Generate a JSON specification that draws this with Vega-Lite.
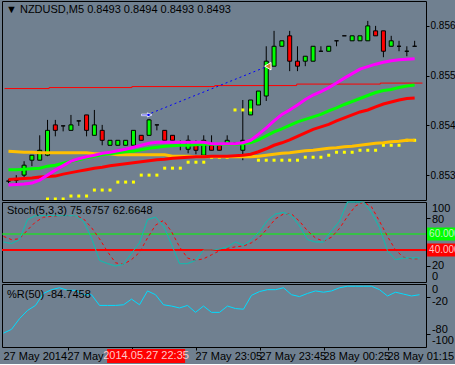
{
"$schema": "https://vega.github.io/schema/vega-lite/v6.json",
"background": "#708090",
"padding": 0,
"bounds": "flush",
"spacing": 2,
"resolve": {"scale": {"x": "independent", "y": "independent"}},
"config": {
  "view": {"stroke": "black", "strokeWidth": 1},
  "font": "Liberation Sans",
  "title": {"color": "black", "fontSize": 11, "fontWeight": "normal", "font": "Liberation Sans Narrow, Liberation Sans", "anchor": "start", "frame": "group"},
  "axis": {"labelFont": "Liberation Sans Narrow, Liberation Sans", "labelFontSize": 11, "labelColor": "black", "tickColor": "black", "domain": false, "grid": false},
  "text": {"font": "Liberation Sans Narrow, Liberation Sans", "fontSize": 11, "color": "black"}
},
"datasets": {
  "candles": [
    {"i":0,"o":0.85338,"h":0.85342,"l":0.85334,"c":0.85338},
    {"i":1,"o":0.85340,"h":0.85350,"l":0.85332,"c":0.85340},
    {"i":2,"o":0.85350,"h":0.85378,"l":0.85344,"c":0.85370},
    {"i":3,"o":0.85380,"h":0.85390,"l":0.85368,"c":0.85390},
    {"i":4,"o":0.85380,"h":0.85430,"l":0.85380,"c":0.85400},
    {"i":5,"o":0.85390,"h":0.85461,"l":0.85388,"c":0.85440},
    {"i":6,"o":0.85451,"h":0.85461,"l":0.85428,"c":0.85440},
    {"i":7,"o":0.85449,"h":0.85449,"l":0.85438,"c":0.85449},
    {"i":8,"o":0.85440,"h":0.85471,"l":0.85440,"c":0.85451},
    {"i":9,"o":0.85459,"h":0.85459,"l":0.85449,"c":0.85459},
    {"i":10,"o":0.85471,"h":0.85471,"l":0.85428,"c":0.85440},
    {"i":11,"o":0.85430,"h":0.85481,"l":0.85430,"c":0.85451},
    {"i":12,"o":0.85440,"h":0.85451,"l":0.85410,"c":0.85420},
    {"i":13,"o":0.85410,"h":0.85420,"l":0.85410,"c":0.85420},
    {"i":14,"o":0.85410,"h":0.85420,"l":0.85410,"c":0.85420},
    {"i":15,"o":0.85410,"h":0.85420,"l":0.85410,"c":0.85420},
    {"i":16,"o":0.85410,"h":0.85440,"l":0.85410,"c":0.85440},
    {"i":17,"o":0.85430,"h":0.85430,"l":0.85420,"c":0.85420},
    {"i":18,"o":0.85430,"h":0.85463,"l":0.85430,"c":0.85461},
    {"i":19,"o":0.85451,"h":0.85451,"l":0.85440,"c":0.85451},
    {"i":20,"o":0.85440,"h":0.85440,"l":0.85420,"c":0.85420},
    {"i":21,"o":0.85430,"h":0.85430,"l":0.85420,"c":0.85420},
    {"i":22,"o":0.85410,"h":0.85420,"l":0.85400,"c":0.85410},
    {"i":23,"o":0.85402,"h":0.85430,"l":0.85394,"c":0.85420},
    {"i":24,"o":0.85410,"h":0.85420,"l":0.85392,"c":0.85400},
    {"i":25,"o":0.85390,"h":0.85430,"l":0.85390,"c":0.85420},
    {"i":26,"o":0.85410,"h":0.85430,"l":0.85400,"c":0.85400},
    {"i":27,"o":0.85410,"h":0.85410,"l":0.85400,"c":0.85400},
    {"i":28,"o":0.85412,"h":0.85430,"l":0.85412,"c":0.85420},
    {"i":29,"o":0.85414,"h":0.85416,"l":0.85412,"c":0.85414},
    {"i":30,"o":0.85400,"h":0.85501,"l":0.85380,"c":0.85420},
    {"i":31,"o":0.85471,"h":0.85501,"l":0.85471,"c":0.85501},
    {"i":32,"o":0.85491,"h":0.85519,"l":0.85491,"c":0.85519},
    {"i":33,"o":0.85509,"h":0.85609,"l":0.85499,"c":0.85579},
    {"i":34,"o":0.85569,"h":0.85640,"l":0.85569,"c":0.85609},
    {"i":35,"o":0.85609,"h":0.85620,"l":0.85609,"c":0.85620},
    {"i":36,"o":0.85630,"h":0.85640,"l":0.85559,"c":0.85579},
    {"i":37,"o":0.85579,"h":0.85609,"l":0.85559,"c":0.85569},
    {"i":38,"o":0.85579,"h":0.85589,"l":0.85569,"c":0.85589},
    {"i":39,"o":0.85579,"h":0.85609,"l":0.85579,"c":0.85609},
    {"i":40,"o":0.85599,"h":0.85609,"l":0.85599,"c":0.85599},
    {"i":41,"o":0.85599,"h":0.85609,"l":0.85599,"c":0.85609},
    {"i":42,"o":0.85620,"h":0.85620,"l":0.85609,"c":0.85620},
    {"i":43,"o":0.85630,"h":0.85630,"l":0.85630,"c":0.85630},
    {"i":44,"o":0.85620,"h":0.85630,"l":0.85620,"c":0.85630},
    {"i":45,"o":0.85620,"h":0.85630,"l":0.85620,"c":0.85630},
    {"i":46,"o":0.85620,"h":0.85660,"l":0.85620,"c":0.85650},
    {"i":47,"o":0.85640,"h":0.85650,"l":0.85630,"c":0.85630},
    {"i":48,"o":0.85640,"h":0.85640,"l":0.85587,"c":0.85599},
    {"i":49,"o":0.85609,"h":0.85630,"l":0.85609,"c":0.85620},
    {"i":50,"o":0.85609,"h":0.85620,"l":0.85599,"c":0.85609},
    {"i":51,"o":0.85599,"h":0.85609,"l":0.85589,"c":0.85599},
    {"i":52,"o":0.85609,"h":0.85620,"l":0.85609,"c":0.85609}
  ],
  "ma": [
    {"i":0,"yel":0.85398,"red":0.85341,"grn":0.85361,"mag":0.85330,"dot":null},
    {"i":1,"yel":0.85397,"red":0.85342,"grn":0.85361,"mag":0.85331,"dot":null},
    {"i":2,"yel":0.85396,"red":0.85343,"grn":0.85362,"mag":0.85332,"dot":null},
    {"i":3,"yel":0.85396,"red":0.85344,"grn":0.85363,"mag":0.85334,"dot":null},
    {"i":4,"yel":0.85395,"red":0.85346,"grn":0.85364,"mag":0.85340,"dot":null},
    {"i":5,"yel":0.85395,"red":0.85347,"grn":0.85368,"mag":0.85350,"dot":0.85302},
    {"i":6,"yel":0.85395,"red":0.85348,"grn":0.85370,"mag":0.85360,"dot":0.85302},
    {"i":7,"yel":0.85395,"red":0.85352,"grn":0.85374,"mag":0.85369,"dot":0.85302},
    {"i":8,"yel":0.85395,"red":0.85355,"grn":0.85378,"mag":0.85378,"dot":0.85308},
    {"i":9,"yel":0.85395,"red":0.85358,"grn":0.85381,"mag":0.85383,"dot":0.85308},
    {"i":10,"yel":0.85395,"red":0.85361,"grn":0.85385,"mag":0.85387,"dot":0.85308},
    {"i":11,"yel":0.85393,"red":0.85364,"grn":0.85388,"mag":0.85390,"dot":0.85320},
    {"i":12,"yel":0.85393,"red":0.85366,"grn":0.85391,"mag":0.85394,"dot":0.85320},
    {"i":13,"yel":0.85393,"red":0.85369,"grn":0.85393,"mag":0.85396,"dot":0.85320},
    {"i":14,"yel":0.85391,"red":0.85371,"grn":0.85395,"mag":0.85399,"dot":0.85336},
    {"i":15,"yel":0.85391,"red":0.85373,"grn":0.85397,"mag":0.85402,"dot":0.85336},
    {"i":16,"yel":0.85391,"red":0.85375,"grn":0.85398,"mag":0.85406,"dot":0.85336},
    {"i":17,"yel":0.85391,"red":0.85377,"grn":0.85401,"mag":0.85410,"dot":0.85350},
    {"i":18,"yel":0.85391,"red":0.85379,"grn":0.85404,"mag":0.85414,"dot":0.85350},
    {"i":19,"yel":0.85391,"red":0.85381,"grn":0.85406,"mag":0.85416,"dot":0.85350},
    {"i":20,"yel":0.85391,"red":0.85382,"grn":0.85408,"mag":0.85416,"dot":0.85364},
    {"i":21,"yel":0.85388,"red":0.85384,"grn":0.85409,"mag":0.85416,"dot":0.85364},
    {"i":22,"yel":0.85388,"red":0.85385,"grn":0.85410,"mag":0.85416,"dot":0.85364},
    {"i":23,"yel":0.85388,"red":0.85386,"grn":0.85410,"mag":0.85416,"dot":0.85376},
    {"i":24,"yel":0.85387,"red":0.85387,"grn":0.85411,"mag":0.85416,"dot":0.85376},
    {"i":25,"yel":0.85387,"red":0.85387,"grn":0.85412,"mag":0.85416,"dot":0.85376},
    {"i":26,"yel":0.85387,"red":0.85388,"grn":0.85412,"mag":0.85413,"dot":0.85386},
    {"i":27,"yel":0.85387,"red":0.85388,"grn":0.85412,"mag":0.85413,"dot":0.85386},
    {"i":28,"yel":0.85387,"red":0.85388,"grn":0.85412,"mag":0.85413,"dot":0.85386},
    {"i":29,"yel":0.85387,"red":0.85389,"grn":0.85412,"mag":0.85413,"dot":0.85481},
    {"i":30,"yel":0.85387,"red":0.85390,"grn":0.85413,"mag":0.85415,"dot":0.85481},
    {"i":31,"yel":0.85387,"red":0.85392,"grn":0.85415,"mag":0.85420,"dot":0.85481},
    {"i":32,"yel":0.85388,"red":0.85397,"grn":0.85421,"mag":0.85432,"dot":0.85380},
    {"i":33,"yel":0.85390,"red":0.85403,"grn":0.85429,"mag":0.85445,"dot":0.85380},
    {"i":34,"yel":0.85392,"red":0.85410,"grn":0.85437,"mag":0.85459,"dot":0.85380},
    {"i":35,"yel":0.85394,"red":0.85415,"grn":0.85443,"mag":0.85472,"dot":0.85380},
    {"i":36,"yel":0.85395,"red":0.85421,"grn":0.85450,"mag":0.85481,"dot":0.85380},
    {"i":37,"yel":0.85397,"red":0.85428,"grn":0.85457,"mag":0.85491,"dot":0.85380},
    {"i":38,"yel":0.85399,"red":0.85435,"grn":0.85462,"mag":0.85502,"dot":0.85386},
    {"i":39,"yel":0.85400,"red":0.85442,"grn":0.85467,"mag":0.85511,"dot":0.85386},
    {"i":40,"yel":0.85402,"red":0.85447,"grn":0.85472,"mag":0.85518,"dot":0.85386},
    {"i":41,"yel":0.85404,"red":0.85452,"grn":0.85479,"mag":0.85526,"dot":0.85390},
    {"i":42,"yel":0.85405,"red":0.85459,"grn":0.85485,"mag":0.85535,"dot":0.85396},
    {"i":43,"yel":0.85407,"red":0.85465,"grn":0.85492,"mag":0.85545,"dot":0.85396},
    {"i":44,"yel":0.85408,"red":0.85471,"grn":0.85498,"mag":0.85554,"dot":0.85396},
    {"i":45,"yel":0.85410,"red":0.85477,"grn":0.85504,"mag":0.85563,"dot":0.85400},
    {"i":46,"yel":0.85412,"red":0.85481,"grn":0.85510,"mag":0.85568,"dot":0.85400},
    {"i":47,"yel":0.85414,"red":0.85487,"grn":0.85516,"mag":0.85573,"dot":0.85400},
    {"i":48,"yel":0.85415,"red":0.85493,"grn":0.85520,"mag":0.85577,"dot":0.85410},
    {"i":49,"yel":0.85417,"red":0.85497,"grn":0.85522,"mag":0.85580,"dot":0.85410},
    {"i":50,"yel":0.85418,"red":0.85501,"grn":0.85526,"mag":0.85582,"dot":0.85410},
    {"i":51,"yel":0.85420,"red":0.85504,"grn":0.85529,"mag":0.85583,"dot":0.85420},
    {"i":52,"yel":0.85420,"red":0.85505,"grn":0.85531,"mag":0.85584,"dot":0.85420}
  ],
  "step": [
    {"i":-0.5,"p":0.85524},{"i":5.2,"p":0.85526},{"i":15.8,"p":0.85528},{"i":26.4,"p":0.85530},{"i":36.9,"p":0.85533},{"i":47.6,"p":0.85535},{"i":53,"p":0.85535}
  ],
  "trade": [
    {"i":17.7,"p":0.85471,"ev":"open"},{"i":33.2,"p":0.85569,"ev":"close"}
  ],
  "levels": [
    {"v":60,"t":"60.000"},{"v":40,"t":"40.000"}
  ],
  "sticks": [
    {"v":100,"t":"100"},{"v":80,"t":"80"},{"v":20,"t":"20"},{"v":0,"t":"0"}
  ],
  "wticks": [
    {"v":0,"t":"0"},{"v":-20,"t":"-20"},{"v":-80,"t":"-80"},{"v":-100,"t":"-100"}
  ],
  "cursor": [
    {"i":18,"t":"2014.05.27 22:35"}
  ],
  "times": [
    {"i":0,"t":"27 May 2014"},{"i":8,"t":"27 May 21:45"},{"i":24,"t":"27 May 23:05"},{"i":32,"t":"27 May 23:45"},{"i":40,"t":"28 May 00:25"},{"i":48,"t":"28 May 01:15"}
  ],
  "stoch": [
    {"i":0,"k":50,"d":57},{"i":1,"k":48,"d":53},{"i":2,"k":53,"d":54},{"i":3,"k":78,"d":65},{"i":4,"k":83,"d":75},
    {"i":5,"k":83,"d":81},{"i":6,"k":83,"d":82},{"i":7,"k":83,"d":83},{"i":8,"k":83,"d":83},{"i":9,"k":83,"d":83},
    {"i":10,"k":76,"d":79},{"i":11,"k":55,"d":68},{"i":12,"k":27,"d":54},{"i":13,"k":23,"d":38},{"i":14,"k":20,"d":24},
    {"i":15,"k":22,"d":22},{"i":16,"k":36,"d":28},{"i":17,"k":49,"d":37},{"i":18,"k":78,"d":55},{"i":19,"k":81,"d":71},
    {"i":20,"k":70,"d":77},{"i":21,"k":47,"d":63},{"i":22,"k":23,"d":44},{"i":23,"k":23,"d":30},{"i":24,"k":27,"d":27},
    {"i":25,"k":40,"d":29},{"i":26,"k":40,"d":34},{"i":27,"k":41,"d":39},{"i":28,"k":44,"d":42},{"i":29,"k":50,"d":44},
    {"i":30,"k":46,"d":45},{"i":31,"k":53,"d":49},{"i":32,"k":63,"d":56},{"i":33,"k":77,"d":67},{"i":34,"k":85,"d":79},
    {"i":35,"k":87,"d":85},{"i":36,"k":83,"d":85},{"i":37,"k":70,"d":76},{"i":38,"k":53,"d":64},{"i":39,"k":50,"d":55},
    {"i":40,"k":50,"d":51},{"i":41,"k":64,"d":56},{"i":42,"k":76,"d":67},{"i":43,"k":100,"d":82},{"i":44,"k":100,"d":95},
    {"i":45,"k":100,"d":100},{"i":46,"k":87,"d":94},{"i":47,"k":68,"d":76},{"i":48,"k":39,"d":57},{"i":49,"k":28,"d":40},
    {"i":50,"k":30,"d":31},{"i":51,"k":30,"d":29},{"i":52,"k":30,"d":29}
  ],
  "wpr": [
    {"i":0,"r":-78},{"i":1,"r":-72},{"i":2,"r":-55},{"i":3,"r":-42},{"i":4,"r":-34},{"i":5,"r":-15},{"i":6,"r":-9},
    {"i":7,"r":-6},{"i":8,"r":-10},{"i":9,"r":-10},{"i":10,"r":-17},{"i":11,"r":-17},{"i":12,"r":-34},{"i":13,"r":-34},
    {"i":14,"r":-34},{"i":15,"r":-33},{"i":16,"r":-24},{"i":17,"r":-33},{"i":18,"r":-11},{"i":19,"r":-17},{"i":20,"r":-33},
    {"i":21,"r":-35},{"i":22,"r":-38},{"i":23,"r":-34},{"i":24,"r":-45},{"i":25,"r":-35},{"i":26,"r":-45},{"i":27,"r":-45},
    {"i":28,"r":-35},{"i":29,"r":-39},{"i":30,"r":-40},{"i":31,"r":-18},{"i":32,"r":-12},{"i":33,"r":-9},{"i":34,"r":-9},
    {"i":35,"r":-6},{"i":36,"r":-17},{"i":37,"r":-20},{"i":38,"r":-15},{"i":39,"r":-11},{"i":40,"r":-13},{"i":41,"r":-11},
    {"i":42,"r":-6},{"i":43,"r":-3.5},{"i":44,"r":-3.5},{"i":45,"r":-3.5},{"i":46,"r":-3.5},{"i":47,"r":-9},{"i":48,"r":-19},
    {"i":49,"r":-13},{"i":50,"r":-16},{"i":51,"r":-19},{"i":52,"r":-17}
  ]
},
"vconcat": [
  {
    "width": 424, "height": 199,
    "title": {"text": "▼  NZDUSD,M5  0.8493 0.8494 0.8493 0.8493", "offset": -14, "dx": 4},
    "layer": [
      {"data": {"name": "step"}, "mark": {"type": "line", "color": "#ff0000", "strokeWidth": 1, "interpolate": "step-after", "clip": true},
       "encoding": {"x": {"field": "i", "type": "quantitative", "scale": {"domain": [-0.1875, 52.8125], "nice": false, "zero": false}, "axis": null},
                    "y": {"field": "p", "type": "quantitative", "scale": {"domain": [0.853, 0.857], "nice": false, "zero": false},
                          "axis": {"orient": "right", "values": [0.8535, 0.8545, 0.8555, 0.8565], "format": ".4f", "tickSize": 3, "labelPadding": 1, "labelFontSize": 10, "labelOverlap": false, "title": null}}}},
      {"data": {"name": "candles"}, "mark": {"type": "rule", "color": "black", "strokeWidth": 1},
       "encoding": {"x": {"field": "i", "type": "quantitative"}, "y": {"field": "h", "type": "quantitative"}, "y2": {"field": "l"}}},
      {"data": {"name": "candles"}, "mark": {"type": "bar", "width": 4, "stroke": "black", "strokeWidth": 1},
       "encoding": {"x": {"field": "i", "type": "quantitative"}, "y": {"field": "o", "type": "quantitative"}, "y2": {"field": "c"},
                    "fill": {"condition": {"test": "datum.c > datum.o", "value": "#00ff00"}, "value": "#ff0000"}}},
      {"data": {"name": "ma"}, "mark": {"type": "square", "color": "#ffff00", "size": 9, "opacity": 1, "filled": true, "clip": true},
       "encoding": {"x": {"field": "i", "type": "quantitative"}, "y": {"field": "dot", "type": "quantitative"}}},
      {"data": {"name": "ma"}, "mark": {"type": "line", "color": "#ffc000", "strokeWidth": 3},
       "encoding": {"x": {"field": "i", "type": "quantitative"}, "y": {"field": "yel", "type": "quantitative"}}},
      {"data": {"name": "ma"}, "mark": {"type": "line", "color": "#ff0000", "strokeWidth": 3},
       "encoding": {"x": {"field": "i", "type": "quantitative"}, "y": {"field": "red", "type": "quantitative"}}},
      {"data": {"name": "ma"}, "mark": {"type": "line", "color": "#00ff00", "strokeWidth": 3},
       "encoding": {"x": {"field": "i", "type": "quantitative"}, "y": {"field": "grn", "type": "quantitative"}}},
      {"data": {"name": "ma"}, "mark": {"type": "line", "color": "#ff00ff", "strokeWidth": 3},
       "encoding": {"x": {"field": "i", "type": "quantitative"}, "y": {"field": "mag", "type": "quantitative"}}},
      {"data": {"name": "trade"}, "mark": {"type": "line", "color": "#0000ff", "strokeWidth": 1, "strokeDash": [2, 3]},
       "encoding": {"x": {"field": "i", "type": "quantitative"}, "y": {"field": "p", "type": "quantitative"}}},
      {"data": {"name": "trade"}, "transform": [{"filter": "datum.ev == 'open'"}],
       "mark": {"type": "point", "shape": "arrow", "angle": 90, "size": 110, "filled": true, "fill": "#0000ff", "stroke": "white", "strokeWidth": 0.8, "opacity": 1},
       "encoding": {"x": {"field": "i", "type": "quantitative"}, "y": {"field": "p", "type": "quantitative"}}},
      {"data": {"name": "trade"}, "transform": [{"filter": "datum.ev == 'close'"}],
       "mark": {"type": "point", "shape": "triangle-left", "size": 55, "filled": true, "fill": "#cc8833", "stroke": "white", "strokeWidth": 1, "opacity": 1},
       "encoding": {"x": {"field": "i", "type": "quantitative"}, "y": {"field": "p", "type": "quantitative"}}},
      {"mark": {"type": "rule", "color": "#ff0000", "strokeDash": [4, 3]}, "encoding": {"x": {"datum": 18}}},
      {"mark": {"type": "rule", "color": "black", "strokeDash": [3, 3]}, "encoding": {"x": {"datum": 35}}}
    ]
  },
  {
    "width": 424, "height": 80,
    "title": {"text": "Stoch(5,3,3) 75.6757 62.6648", "offset": -16, "dx": 5},
    "layer": [
      {"data": {"name": "stoch"}, "mark": {"type": "line", "color": "#20b2aa", "strokeWidth": 1},
       "encoding": {"x": {"field": "i", "type": "quantitative", "scale": {"domain": [-0.1875, 52.8125], "nice": false, "zero": false}, "axis": null},
                    "y": {"field": "k", "type": "quantitative", "scale": {"domain": [0, 100], "nice": false},
                          "axis": {"orient": "right", "values": [80, 20], "tickSize": 4, "labels": false, "title": null}}}},
      {"mark": {"type": "rule", "color": "#dcdcdc", "strokeDash": [4, 3]}, "encoding": {"y": {"datum": 80}}},
      {"mark": {"type": "rule", "color": "#dcdcdc", "strokeDash": [4, 3]}, "encoding": {"y": {"datum": 20}}},
      {"data": {"name": "levels"}, "mark": {"type": "rule"},
       "encoding": {"y": {"field": "v", "type": "quantitative"},
                    "color": {"condition": {"test": "datum.v == 60", "value": "#00ff00"}, "value": "#ff0000"},
                    "strokeWidth": {"condition": {"test": "datum.v == 60", "value": 1}, "value": 2}}},
      {"data": {"name": "stoch"}, "mark": {"type": "line", "color": "#ff0000", "strokeWidth": 1, "strokeDash": [3, 3]},
       "encoding": {"x": {"field": "i", "type": "quantitative"}, "y": {"field": "d", "type": "quantitative"}}},
      {"data": {"name": "stoch"}, "mark": {"type": "line", "color": "#20b2aa", "strokeWidth": 1},
       "encoding": {"x": {"field": "i", "type": "quantitative"}, "y": {"field": "k", "type": "quantitative"}}},
      {"mark": {"type": "rule", "color": "#ff0000", "strokeDash": [4, 3]}, "encoding": {"x": {"datum": 18}}},
      {"mark": {"type": "rule", "color": "black", "strokeDash": [3, 3]}, "encoding": {"x": {"datum": 35}}},
      {"data": {"name": "levels"}, "mark": {"type": "rule", "strokeWidth": 13, "strokeCap": "butt", "clip": false},
       "encoding": {"x": {"datum": 52.95}, "x2": {"datum": 58}, "y": {"field": "v", "type": "quantitative"},
                    "color": {"condition": {"test": "datum.v == 60", "value": "#00ff00"}, "value": "#ff0000"}}},
      {"data": {"name": "levels"}, "mark": {"type": "text", "align": "left", "baseline": "middle", "dx": 2, "fontSize": 10, "clip": false},
       "encoding": {"x": {"datum": 52.95}, "y": {"field": "v", "type": "quantitative"}, "text": {"field": "t"},
                    "color": {"condition": {"test": "datum.v == 60", "value": "#c4f4c4"}, "value": "#ffc4c4"}}},
      {"data": {"name": "sticks"}, "transform": [{"filter": "datum.v == 100"}], "mark": {"type": "text", "align": "left", "baseline": "top", "dy": 1, "clip": false},
       "encoding": {"x": {"datum": 53.55}, "y": {"field": "v", "type": "quantitative"}, "text": {"field": "t"}}},
      {"data": {"name": "sticks"}, "transform": [{"filter": "datum.v == 80"}], "mark": {"type": "text", "align": "left", "baseline": "middle", "dy": 2, "clip": false},
       "encoding": {"x": {"datum": 53.55}, "y": {"field": "v", "type": "quantitative"}, "text": {"field": "t"}}},
      {"data": {"name": "sticks"}, "transform": [{"filter": "datum.v == 20"}], "mark": {"type": "text", "align": "left", "baseline": "middle", "dy": -0.5, "clip": false},
       "encoding": {"x": {"datum": 53.55}, "y": {"field": "v", "type": "quantitative"}, "text": {"field": "t"}}},
      {"data": {"name": "sticks"}, "transform": [{"filter": "datum.v == 0"}], "mark": {"type": "text", "align": "left", "baseline": "bottom", "dy": 0, "clip": false},
       "encoding": {"x": {"datum": 53.55}, "y": {"field": "v", "type": "quantitative"}, "text": {"field": "t"}}}
    ]
  },
  {
    "width": 424, "height": 63,
    "title": {"text": "%R(50) -84.7458", "offset": -16, "dx": 5},
    "layer": [
      {"mark": {"type": "rule", "color": "#dcdcdc", "strokeDash": [4, 3]}, "encoding": {"y": {"datum": -20, "type": "quantitative", "scale": {"domain": [-100, 0], "nice": false, "zero": false},
          "axis": {"orient": "right", "values": [-20, -80], "tickSize": 4, "labels": false, "title": null}}}},
      {"mark": {"type": "rule", "color": "#dcdcdc", "strokeDash": [4, 3]}, "encoding": {"y": {"datum": -80}}},
      {"data": {"name": "wpr"}, "mark": {"type": "line", "color": "#00dcff", "strokeWidth": 1},
       "encoding": {"x": {"field": "i", "type": "quantitative", "scale": {"domain": [-0.1875, 52.8125], "nice": false, "zero": false},
                          "axis": {"orient": "bottom", "values": [8, 16, 24, 32, 40, 48], "tickSize": 3, "labels": false, "title": null}},
                    "y": {"field": "r", "type": "quantitative"}}},
      {"mark": {"type": "rule", "color": "#ff0000", "strokeDash": [4, 3]}, "encoding": {"x": {"datum": 18}}},
      {"mark": {"type": "rule", "color": "black", "strokeDash": [3, 3]}, "encoding": {"x": {"datum": 35}}},
      {"data": {"name": "wticks"}, "transform": [{"filter": "datum.v == 0"}], "mark": {"type": "text", "align": "left", "baseline": "top", "dy": 0, "clip": false},
       "encoding": {"x": {"datum": 53.55}, "y": {"field": "v", "type": "quantitative"}, "text": {"field": "t"}}},
      {"data": {"name": "wticks"}, "transform": [{"filter": "datum.v == -20"}], "mark": {"type": "text", "align": "left", "baseline": "top", "dy": -0.5, "clip": false},
       "encoding": {"x": {"datum": 53.55}, "y": {"field": "v", "type": "quantitative"}, "text": {"field": "t"}}},
      {"data": {"name": "wticks"}, "transform": [{"filter": "datum.v == -80"}], "mark": {"type": "text", "align": "left", "baseline": "bottom", "dy": 0.5, "clip": false},
       "encoding": {"x": {"datum": 53.55}, "y": {"field": "v", "type": "quantitative"}, "text": {"field": "t"}}},
      {"data": {"name": "wticks"}, "transform": [{"filter": "datum.v == -100"}], "mark": {"type": "text", "align": "left", "baseline": "bottom", "dy": -1, "clip": false},
       "encoding": {"x": {"datum": 53.55}, "y": {"field": "v", "type": "quantitative"}, "text": {"field": "t"}}},
      {"data": {"name": "times"}, "mark": {"type": "text", "align": "left", "baseline": "top", "clip": false},
       "encoding": {"x": {"field": "i", "type": "quantitative"}, "y": {"datum": -106.5}, "text": {"field": "t"}}},
      {"data": {"name": "cursor"}, "mark": {"type": "rule", "color": "#ff0000", "strokeWidth": 14, "strokeCap": "butt", "clip": false},
       "encoding": {"x": {"datum": 12.95}, "x2": {"datum": 22.7}, "y": {"datum": -114.3}}},
      {"data": {"name": "cursor"}, "mark": {"type": "text", "align": "center", "baseline": "middle", "color": "#ffc8c8", "clip": false},
       "encoding": {"x": {"datum": 17.82}, "y": {"datum": -114.3}, "text": {"field": "t"}}}
    ]
  }
]
}
